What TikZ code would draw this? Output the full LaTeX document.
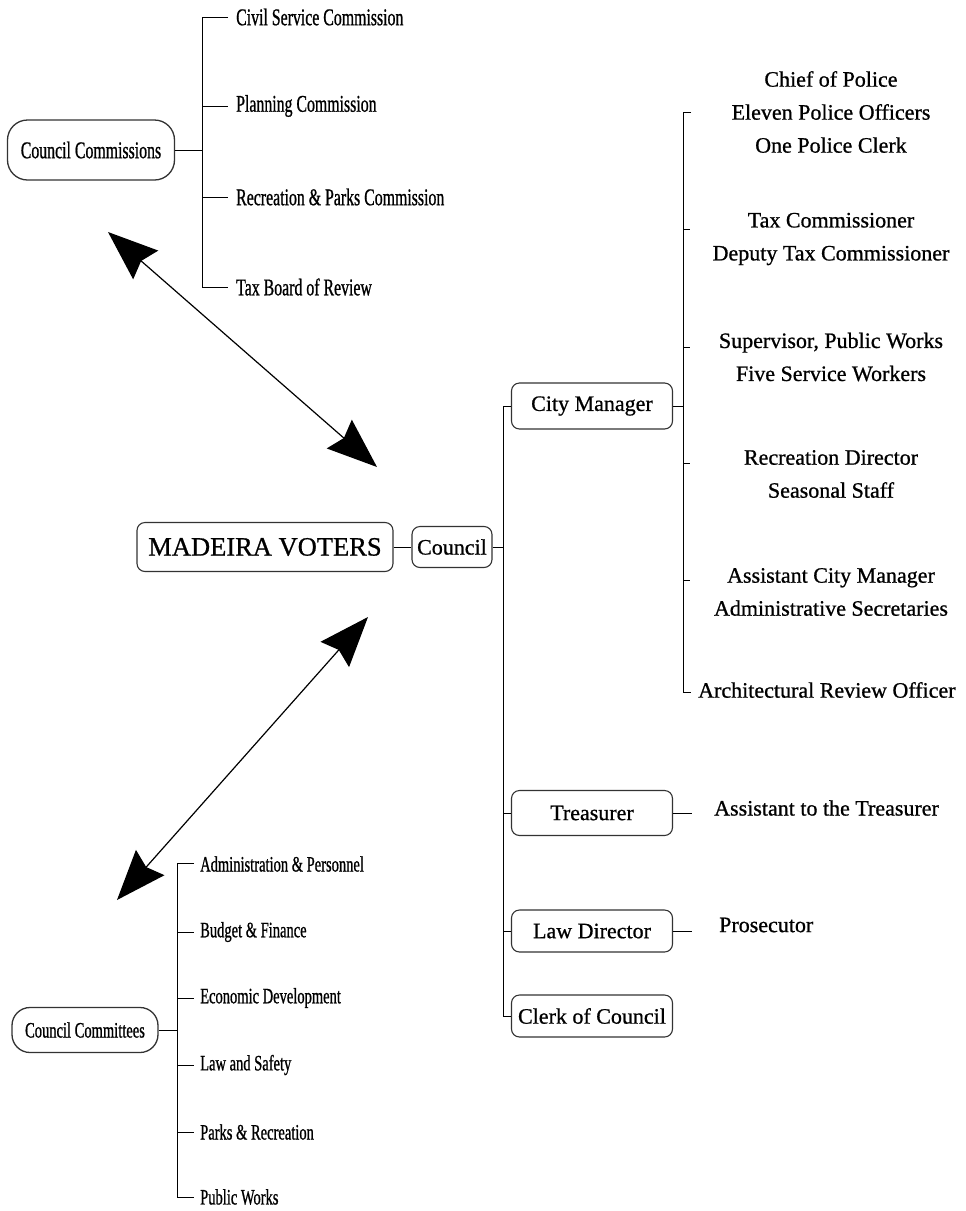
\documentclass[tikz,border=0pt]{standalone}
\usepackage{fontspec}
\setmainfont{Liberation Serif}[FakeBold=0.8,BoldFont={Liberation Serif},BoldFeatures={FakeBold=0.8}]
\newfontfamily\narrowf{Liberation Serif}[FakeStretch=0.66]
\newfontfamily\narrowfb{Liberation Serif}[FakeStretch=0.66,FakeBold=0.8]
\newfontfamily\mainb{Liberation Serif}[FakeBold=0.8]
\usetikzlibrary{arrows.meta}
\begin{document}
\begin{tikzpicture}[x=1pt,y=-1pt,
  box/.style={draw=black!80,line width=1.1pt,rounded corners=8pt,inner sep=0pt,font=\mainb\fontsize{22}{26}\selectfont},
  capsule/.style={draw=black!80,line width=1.3pt,rounded corners=20pt,inner sep=0pt},
  ln/.style={line width=1pt,black},
  biarrow/.style={line width=1.2pt,{Stealth[length=50pt,width=38pt,inset=6pt]}-{Stealth[length=50pt,width=38pt,inset=6pt]}},
  stafftext/.style={align=center,inner sep=0pt,font=\mainb\fontsize{22}{33}\selectfont},
  leftstaff/.style={anchor=west,inner sep=0pt,font=\mainb\fontsize{22}{26}\selectfont},
  commtext/.style={anchor=west,inner sep=0pt,font=\narrowfb\fontsize{24}{28}\selectfont},
  cmtetext/.style={anchor=west,inner sep=0pt,font=\narrowfb\fontsize{22}{26}\selectfont}
]
\useasboundingbox (0,0) rectangle (966,1211);

% ---------- Council Commissions ----------
\node[capsule,minimum width=167pt,minimum height=60pt,font=\narrowfb\fontsize{24}{28}\selectfont] (cc) at (91,150) {Council Commissions};
\node[commtext] (c1) at (236,17) {Civil Service Commission};
\node[commtext] (c2) at (236,106) {Planning Commission};
\node[commtext] (c3) at (236,197) {Recreation \& Parks Commission};
\node[commtext] (c4) at (236,287) {Tax Board of Review};
\coordinate (ccb) at (202,150);
\draw[ln] (cc.east) -- (ccb);
\draw[ln] (228,17) -- (202,17) -- (202,287) -- (228,287);
\draw[ln] (202,106) -- (228,106);
\draw[ln] (202,197) -- (228,197);

% ---------- Madeira voters / Council ----------
\node[box,minimum width=256pt,minimum height=49pt,font=\mainb\fontsize{26.5}{30}\selectfont] (mv) at (265,547) {MADEIRA VOTERS};
\node[box,minimum width=80pt,minimum height=41pt] (council) at (452,547) {Council};
\draw[ln] (mv.east) -- (council.west);

% ---------- arrows ----------
\coordinate (a1s) at (108,232);
\coordinate (a1e) at (377,467);
\coordinate (a2s) at (368,617);
\coordinate (a2e) at (117,900);
\draw[biarrow] (a1s) -- (a1e);
\draw[biarrow] (a2s) -- (a2e);

% ---------- Council branches ----------
\node[box,minimum width=161pt,minimum height=46pt] (cm) at (592,406) {City Manager};
\node[box,minimum width=161pt,minimum height=45pt] (tr) at (592,813) {Treasurer};
\node[box,minimum width=161pt,minimum height=42pt] (ld) at (592,931) {Law Director};
\node[box,minimum width=161pt,minimum height=42pt] (cl) at (592,1016) {Clerk of Council};
\coordinate (cb) at (503,547);
\draw[ln] (council.east) -- (cb);
\draw[ln] (cm.west) -- (503,406) -- (503,1016) -- (cl.west);
\draw[ln] (503,813) -- (tr.west);
\draw[ln] (503,931) -- (ld.west);

% ---------- City manager staff ----------
\node[stafftext] (s1) at (831,112) {Chief of Police\\Eleven Police Officers\\One Police Clerk};
\node[stafftext] (s2) at (831,239) {Tax Commissioner\\Deputy Tax Commissioner};
\node[stafftext] (s3) at (831,357) {Supervisor, Public Works\\Five Service Workers};
\node[stafftext] (s4) at (831,474) {Recreation Director\\Seasonal Staff};
\node[stafftext] (s5) at (831,592) {Assistant City Manager\\Administrative Secretaries};
\node[leftstaff] (s6) at (698,690) {Architectural Review Officer};
\coordinate (cmb) at (683,406);
\draw[ln] (cm.east) -- (cmb);
\draw[ln] (691,112) -- (683,112) -- (683,692) -- (691,692);
\foreach \yy in {229,347,463,580} \draw[ln] (683,\yy) -- (690,\yy);

% ---------- other staff ----------
\node[leftstaff] (at) at (714,808) {Assistant to the Treasurer};
\node[leftstaff] (pr) at (719,925) {Prosecutor};
\draw[ln] (tr.east) -- (692,813);
\draw[ln] (ld.east) -- (692,931);

% ---------- Council Committees ----------
\node[capsule,minimum width=146pt,minimum height=45pt,rounded corners=18pt,font=\narrowfb\fontsize{22}{26}\selectfont] (ct) at (85,1030) {Council Committees};
\node[cmtetext] (k1) at (200,864) {Administration \& Personnel};
\node[cmtetext] (k2) at (200,932) {Budget \& Finance};
\node[cmtetext] (k3) at (200,998) {Economic Development};
\node[cmtetext] (k4) at (200,1065) {Law and Safety};
\node[cmtetext] (k5) at (200,1132) {Parks \& Recreation};
\node[cmtetext] (k6) at (200,1197) {Public Works};
\coordinate (ctb) at (177,1030);
\draw[ln] (ct.east) -- (ctb);
\draw[ln] (194,863) -- (177,863) -- (177,1197) -- (194,1197);
\foreach \yy in {932,998,1065,1132} \draw[ln] (177,\yy) -- (194,\yy);
\end{tikzpicture}
\end{document}
